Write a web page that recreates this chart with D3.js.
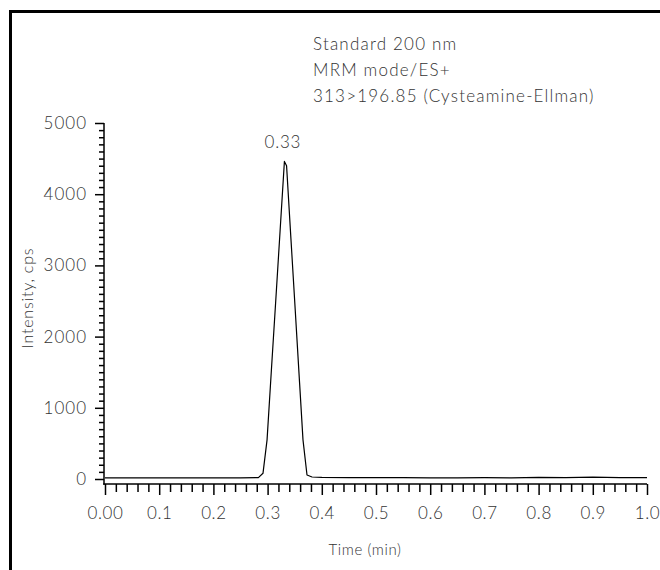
<!DOCTYPE html>
<html><head><meta charset="utf-8">
<script src="https://cdn.jsdelivr.net/npm/d3@7"></script>
<style>
body{margin:0;background:#fff;}
text{font-family:Lato,"Open Sans",sans-serif;font-weight:300;fill:#333;}
</style></head>
<body>
<svg id="chart" width="660" height="570"></svg>
<script>
const times = [0.00,0.05,0.10,0.15,0.20,0.25,0.283,0.2915,0.299,0.307,0.315,0.323,0.331,0.335,0.343,0.351,0.359,0.3653,0.3727,0.382,0.40,0.45,0.50,0.55,0.60,0.65,0.70,0.75,0.80,0.85,0.90,0.95,1.00];
const intensity = [15,15,15,15,15,15,20,80,550,1530,2500,3480,4460,4400,3380,2370,1350,550,56,28,22,20,20,18,16,16,18,16,22,18,25,18,18];
const xTickValues = [0,0.1,0.2,0.3,0.4,0.5,0.6,0.7,0.8,0.9,1.0];
const xTickLabels = ["0.00","0.1","0.2","0.3","0.4","0.5","0.6","0.7","0.8","0.9","1.0"];
const yTickValues = [0,1000,2000,3000,4000,5000];
const annotations = ["Standard 200 nm","MRM mode/ES+","313>196.85 (Cysteamine-Ellman)"];
const peakLabel = {t:0.33, v:4460, text:"0.33"};

const svg = d3.select("#chart");
svg.append("rect").attr("x",10.5).attr("y",11.5).attr("width",700).attr("height",600)
  .attr("fill","none").attr("stroke","#000").attr("stroke-width",3);

const x = d3.scaleLinear().domain([0,1]).range([105,647]);
const y = d3.scaleLinear().domain([0,5000]).range([479,123]);
const axisY0 = 484;

// x axis
const xMinor = d3.range(0,1.0001,0.02).map(v=>+v.toFixed(2)).filter(v=>!xTickValues.some(t=>Math.abs(t-v)<1e-6));
const gx = svg.append("g").attr("transform",`translate(0,${axisY0})`);
gx.call(d3.axisBottom(x).tickValues(xMinor).tickSize(8).tickSizeOuter(0).tickFormat(""));
gx.call(g=>g.selectAll(".domain").remove());
const gx2 = svg.append("g").attr("transform",`translate(0,${axisY0})`);
gx2.call(d3.axisBottom(x).tickValues(xTickValues).tickSize(11).tickSizeOuter(0).tickFormat((d,i)=>xTickLabels[i]));
gx2.select(".domain").remove();
gx2.selectAll("text").attr("font-size",17).attr("y",29).attr("dy","0.35em")
  .style("letter-spacing","0.6px").attr("fill","#333").style("font-family","Lato").style("font-weight",300);

// y axis
const yMinor = d3.range(0,5001,100).filter(v=>v%1000!==0);
const gy = svg.append("g").attr("transform","translate(104,0)");
gy.call(d3.axisLeft(y).tickValues(yMinor).tickSize(5).tickSizeOuter(0).tickFormat(""));
gy.select(".domain").remove();
const gy2 = svg.append("g").attr("transform","translate(104,0)");
gy2.call(d3.axisLeft(y).tickValues(yTickValues).tickSize(9).tickSizeOuter(0).tickFormat(d3.format("d")));
gy2.select(".domain").remove();
gy2.selectAll("text").attr("font-size",17).attr("x",-17).style("letter-spacing","1px")
  .attr("fill","#333").style("font-family","Lato").style("font-weight",300);
svg.append("line").attr("x1",104).attr("x2",104).attr("y1",y(5000)).attr("y2",axisY0+0.75)
  .attr("stroke","#000").attr("stroke-width",1.5);
svg.append("line").attr("x1",103.25).attr("x2",x(1)).attr("y1",axisY0).attr("y2",axisY0)
  .attr("stroke","#000").attr("stroke-width",1.5);
svg.selectAll(".tick line").attr("stroke","#000").attr("stroke-width",1.5);

// trace
const data = times.map((t,i)=>({t, v:intensity[i]}));
svg.append("path").datum(data)
  .attr("d", d3.line().x(d=>x(d.t)).y(d=>y(d.v)))
  .attr("fill","none").attr("stroke","#000").attr("stroke-width",1.2).attr("stroke-linejoin","round");

// peak label
svg.append("text").attr("x",x(peakLabel.t)-1).attr("y",y(peakLabel.v)-13)
  .attr("text-anchor","middle").attr("font-size",17).style("letter-spacing","0.8px").text(peakLabel.text);

// annotations
annotations.forEach((s,i)=>{
  svg.append("text").attr("x",313).attr("y",50+i*26).attr("font-size",17)
    .style("letter-spacing","1.2px").text(s);
});

// axis labels
svg.append("text").attr("x",365).attr("y",555).attr("text-anchor","middle").attr("font-size",15)
  .style("letter-spacing","0.6px").text("Time (min)");
svg.append("text").attr("transform","translate(33,298) rotate(-90)").attr("text-anchor","middle")
  .attr("font-size",16).style("letter-spacing","0.8px").text("Intensity, cps");
</script>
</body></html>
